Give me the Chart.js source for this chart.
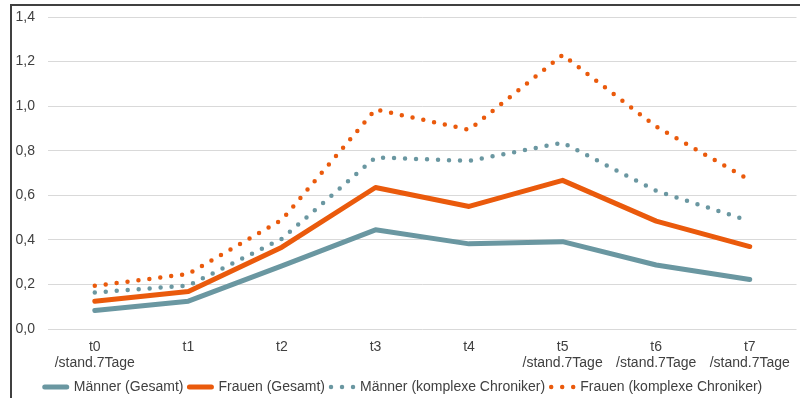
<!DOCTYPE html>
<html>
<head>
<meta charset="utf-8">
<script src="https://cdn.jsdelivr.net/npm/chart.js@4/dist/chart.umd.min.js"></script>
<style>
  html, body { margin: 0; padding: 0; background: #fff; overflow: hidden; }
  #wrap { position: relative; width: 800px; height: 404px; }
  #frame { position: absolute; left: 10px; top: 4px; right: -10px; bottom: -10px;
           border-top: 2px solid #404040; border-left: 2px solid #404040; pointer-events: none; }
</style>
</head>
<body>
<div id="wrap">
  <canvas id="chart"></canvas>
  <div id="frame"></div>
</div>
<script>
// Kategorien (x-Achse)
const categories = [['t0', '/stand.7Tage'], 't1', 't2', 't3', 't4',
  ['t5', '/stand.7Tage'], ['t6', '/stand.7Tage'], ['t7', '/stand.7Tage']];

// Werte je Reihe
const maennerGesamt  = [0.083, 0.125, 0.283, 0.445, 0.382, 0.392, 0.287, 0.222];
const frauenGesamt   = [0.125, 0.168, 0.367, 0.635, 0.550, 0.667, 0.484, 0.370];
const maennerKomplex = [0.164, 0.195, 0.405, 0.770, 0.754, 0.836, 0.620, 0.484];
const frauenKomplex  = [0.194, 0.247, 0.490, 0.985, 0.894, 1.230, 0.908, 0.668];

// y-Achse
const yMin = 0;
const yMax = 1.4;
const yStep = 0.2;

const teal = '#6a97a1';
const orange = '#ea5a0c';
const textColor = '#404040';

const ctx = document.getElementById('chart');

function solid(label, data, color) {
  return {
    label: label, data: data, borderColor: color, backgroundColor: color,
    borderWidth: 5, borderCapStyle: 'round', borderJoinStyle: 'round',
    pointRadius: 0, tension: 0, fill: false
  };
}

function dotted(label, data, color) {
  return {
    label: label, data: data, borderColor: color, backgroundColor: color,
    borderWidth: 4.5, borderCapStyle: 'round', borderJoinStyle: 'round',
    borderDash: [0, 11], pointRadius: 0, tension: 0, fill: false
  };
}

new Chart(ctx, {
  type: 'line',
  data: {
    labels: categories,
    datasets: [
      solid('Männer (Gesamt)', maennerGesamt, teal),
      solid('Frauen (Gesamt)', frauenGesamt, orange),
      dotted('Männer (komplexe Chroniker)', maennerKomplex, teal),
      dotted('Frauen (komplexe Chroniker)', frauenKomplex, orange)
    ]
  },
  options: {
    responsive: true,
    maintainAspectRatio: false,
    animation: false,
    layout: { padding: { left: 10, right: 3, top: 17, bottom: 0 } },
    plugins: {
      tooltip: { enabled: false },
      legend: {
        position: 'bottom',
        labels: {
          boxWidth: 22,
          boxHeight: 0,
          padding: 6,
          color: textColor,
          font: { family: 'Liberation Sans, Arial, sans-serif', size: 14 }
        }
      }
    },
    scales: {
      x: {
        offset: true,
        grid: { display: false, drawTicks: false, offset: true },
        border: { display: false },
        ticks: {
          color: textColor,
          padding: 10,
          maxRotation: 0,
          autoSkip: false,
          font: { family: 'Liberation Sans, Arial, sans-serif', size: 14, lineHeight: 1.15 }
        },
        afterFit: function(scale) { scale.height = 45; }
      },
      y: {
        min: yMin,
        max: yMax,
        grid: { color: '#d9d9d9', lineWidth: 1, drawTicks: false },
        border: { display: false },
        ticks: {
          stepSize: yStep,
          padding: 13,
          color: textColor,
          font: { family: 'Liberation Sans, Arial, sans-serif', size: 14 },
          callback: function(value) { return value.toFixed(1).replace('.', ','); }
        },
        afterFit: function(scale) {
          // feste Breite, und keine Extra-Polsterung oben/unten für die Beschriftung
          scale.width = 38;
          scale.paddingTop = 0;
          scale.paddingBottom = 0;
        }
      }
    }
  }
});
</script>
</body>
</html>
